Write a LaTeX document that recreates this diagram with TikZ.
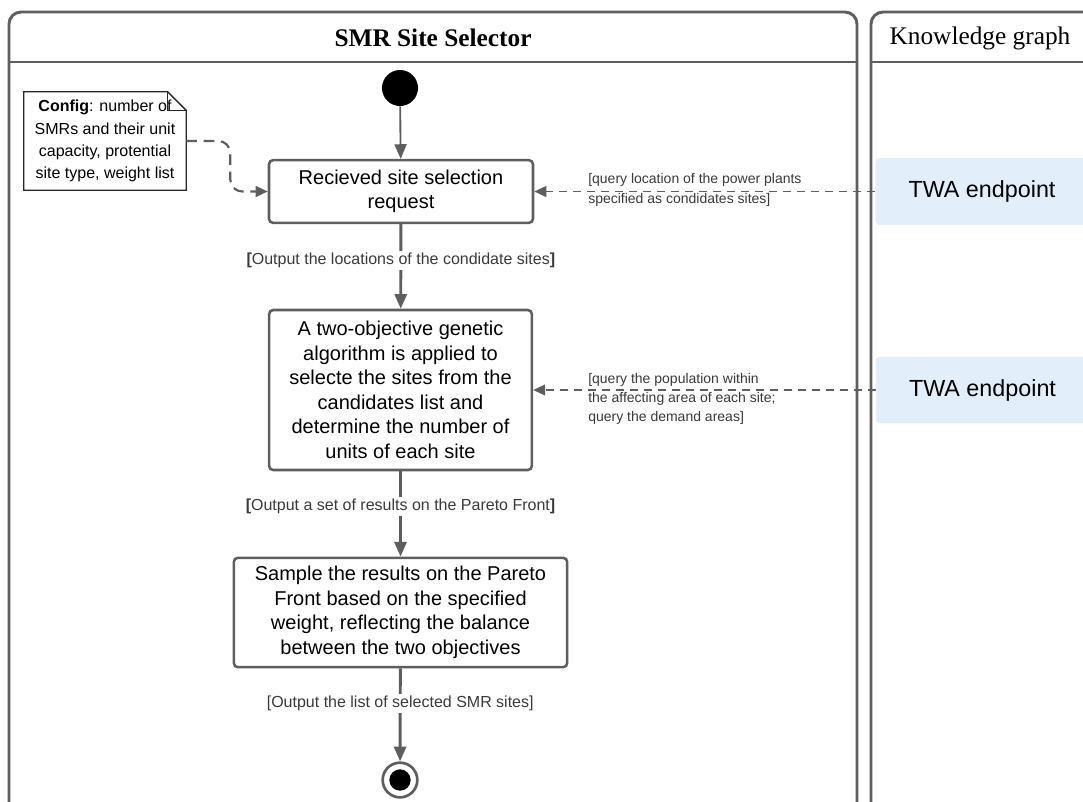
\documentclass[tikz,border=0pt]{standalone}
\usepackage{fontspec}
\setmainfont{Liberation Sans}
\newfontfamily\headfont{Liberation Serif}
\usetikzlibrary{arrows.meta}
\definecolor{linegray}{HTML}{5E5E5E}
\definecolor{twablue}{HTML}{E2EFFA}
\definecolor{labelgray}{HTML}{3A3A3A}
\tikzset{
  pool/.style={draw=linegray, line width=2.2pt, rounded corners=9pt},
  pooltitle/.style={font=\headfont\fontsize{19}{22}\selectfont},
  kact/.style={draw=linegray, line width=1.9pt, rounded corners=3pt, align=center, inner sep=0pt, font=\fontsize{15}{18.4}\selectfont},
  kstart/.style={circle, fill=black, inner sep=0pt, minimum size=27pt},
  kstop/.style={circle, draw=linegray, line width=2pt, fill=white, inner sep=0pt, minimum size=26pt},
  kstopdot/.style={circle, fill=black, inner sep=0pt, minimum size=16pt},
  kendpoint/.style={fill=twablue, rounded corners=3pt, minimum width=160pt, minimum height=50pt, font=\fontsize{17.5}{21}\selectfont},
  knote/.style={align=center, inner sep=0pt, minimum width=121.5pt, minimum height=73.5pt, font=\fontsize{12}{16.7}\selectfont},
  notebox/.style={draw=black!85, line width=1pt},
  guard/.style={fill=white, inner sep=1.5pt, text=labelgray, font=\fontsize{12}{14}\selectfont},
  qlabel/.style={anchor=west, align=left, inner sep=0pt, text=labelgray, font=\fontsize{10.5}{14.5}\selectfont},
  flow/.style={draw=linegray, line width=2.2pt, -{Triangle[length=11pt,width=9pt]}},
  query/.style={draw=linegray, line width=1.4pt, dash pattern=on 6pt off 4.5pt, -{Triangle[length=9pt,width=8pt]}},
  notelink/.style={draw=linegray, line width=1.6pt, dash pattern=on 8pt off 5pt, rounded corners=9pt, -{Triangle[length=9pt,width=8pt]}},
}

\begin{document}
\begin{tikzpicture}[x=0.75pt, y=-0.75pt]
    \useasboundingbox (0,0) rectangle (1083,801);
    \clip (0,0) rectangle (1083,801);
    \fill[white] (0,0) rectangle (1083,801);
    \draw[pool] (9,12) rectangle (857,815);
    \draw[pool] (9,62) -- (857,62);
    \draw[pool] (871,12) rectangle (1110,815);
    \draw[pool] (871,62) -- (1110,62);
    \node[pooltitle, font=\headfont\bfseries\fontsize{19}{22}\selectfont] (lane1) at (433,38) {SMR Site Selector};
    \node[pooltitle] (lane2) at (980,38) {Knowledge graph};
    \node[kstart] (start) at (400,88) {};
    \node[kact, minimum width=198pt, minimum height=47pt] (recv) at (401,191.5) {Recieved site selection\\request};
    \node[kact, minimum width=197pt, minimum height=120pt] (ga) at (400.5,390) {A two-objective genetic\\algorithm is applied to\\selecte the sites from the\\candidates list and\\determine the number of\\units of each site};
    \node[kact, minimum width=250pt, minimum height=82pt] (sample) at (400.5,612.5) {Sample the results on the Pareto\\Front based on the specified\\weight, reflecting the balance\\between the two objectives};
    \node[kstop] (stop) at (400,780) {};
    \node[kstopdot] (stopdot) at (400,780) {};
    \node[knote] (cfg) at (105,141) {\textbf{Config}: number of\\SMRs and their unit\\capacity, protential\\site type, weight list};
    \draw[notebox] (cfg.south west) -- (cfg.south east) -- ([yshift=-14pt]cfg.north east) -- ([xshift=-14pt]cfg.north east) -- (cfg.north west) -- cycle;
    \draw[notebox] ([xshift=-14pt]cfg.north east) |- ([yshift=-14pt]cfg.north east);
    \node[kendpoint] (ep1) at (982,191.5) {TWA endpoint};
    \node[kendpoint] (ep2) at (982.5,390) {TWA endpoint};
    \draw[flow, line width=1.4pt] (start) -- (recv);
    \draw[flow] (recv) -- (ga) node[guard, pos=0.43]{\textbf{[}Output the locations of the condidate sites\textbf{]}};
    \draw[flow] (ga) -- (sample) node[guard, pos=0.41]{\textbf{[}Output a set of results on the Pareto Front\textbf{]}};
    \draw[flow] (sample) -- (stop) node[guard, pos=0.38]{[Output the list of selected SMR sites]};
    \draw[query] (ep1) -- (recv);
    \draw[query] (ep2) -- (ga);
    \node[qlabel] (q1) at (588,190) {[query location of the power plants\\specified as condidates sites]};
    \node[qlabel] (q2) at (588,399) {[query the population within\\the affecting area of each site;\\query the demand areas]};
    \draw[notelink] (cfg.east) -- ++(44,0) |- (recv.west);
  \end{tikzpicture}
\end{document}
